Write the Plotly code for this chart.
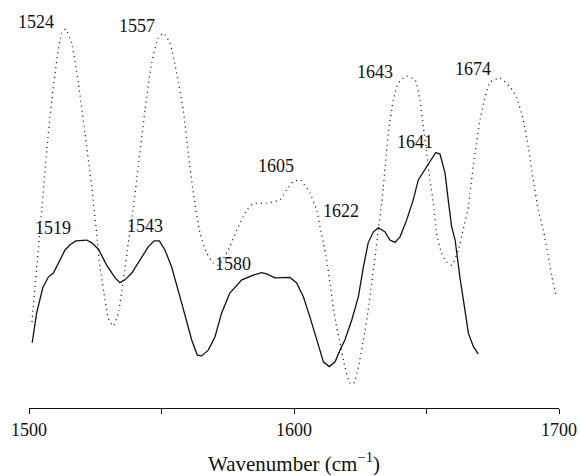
import plotly.graph_objects as go

# Spectrum traces (wavenumber, relative intensity)
dotted_x = [1501.1, 1504.8, 1506.7, 1508.6, 1510.5, 1512.3, 1513.8, 1516.1, 1518.6, 1521.1,
            1523.7, 1525.5, 1526.8, 1528.7, 1529.9, 1531.8, 1533.7, 1535.6, 1537.5, 1539.4,
            1541.2, 1543.8, 1546.3, 1548.8, 1550.7, 1553.2, 1555.7, 1558.2, 1560.1, 1562.0,
            1564.5, 1567.1, 1569.5, 1571.5, 1575.2, 1578.4, 1582.2, 1584.6, 1589.7, 1594.7,
            1597.2, 1599.6, 1602.3, 1606.0, 1608.6, 1609.8, 1611.1, 1612.3, 1613.6, 1614.8,
            1616.1, 1617.4, 1619.2, 1621.1, 1622.4, 1624.3, 1626.2, 1628.0, 1629.3, 1630.6,
            1631.8, 1633.1, 1633.7, 1635.6, 1637.5, 1639.4, 1642.5, 1645.7, 1647.5, 1648.8,
            1650.1, 1651.3, 1652.6, 1653.8, 1655.7, 1657.6, 1659.5, 1662.0, 1663.9, 1665.8,
            1666.4, 1668.3, 1670.2, 1672.1, 1674.0, 1677.7, 1681.5, 1684.0, 1686.5, 1688.4,
            1690.3, 1692.2, 1694.1, 1696.0, 1697.8, 1698.9]
dotted_y = [0.216, 0.497, 0.648, 0.774, 0.874, 0.942, 0.952, 0.917, 0.817, 0.691,
            0.555, 0.440, 0.354, 0.271, 0.226, 0.206, 0.239, 0.322, 0.415, 0.505,
            0.606, 0.749, 0.867, 0.930, 0.942, 0.917, 0.842, 0.749, 0.641, 0.540,
            0.440, 0.389, 0.364, 0.359, 0.397, 0.447, 0.497, 0.513, 0.515, 0.523,
            0.548, 0.568, 0.573, 0.540, 0.497, 0.455, 0.415, 0.372, 0.314, 0.254,
            0.204, 0.163, 0.103, 0.063, 0.060, 0.103, 0.171, 0.246, 0.314, 0.379,
            0.447, 0.515, 0.555, 0.691, 0.774, 0.817, 0.834, 0.824, 0.774, 0.706,
            0.641, 0.573, 0.515, 0.440, 0.389, 0.367, 0.359, 0.397, 0.450, 0.505,
            0.540, 0.641, 0.724, 0.781, 0.819, 0.829, 0.807, 0.781, 0.724, 0.656,
            0.573, 0.497, 0.447, 0.379, 0.314, 0.284]

solid_x = [1501.2, 1502.9, 1505.2, 1507.3, 1509.2, 1511.1, 1513.6, 1515.5, 1517.7, 1521.8,
           1523.7, 1526.2, 1529.3, 1532.5, 1534.3, 1536.2, 1538.8, 1541.9, 1545.0, 1547.2,
           1549.2, 1551.3, 1553.8, 1557.6, 1561.4, 1563.5, 1565.2, 1567.7, 1570.2, 1572.7,
           1575.8, 1580.3, 1584.6, 1587.8, 1589.7, 1592.8, 1595.4, 1598.5, 1601.0, 1603.5,
           1606.0, 1608.6, 1611.1, 1613.3, 1615.5, 1617.4, 1619.2, 1621.8, 1624.3, 1626.2,
           1628.0, 1629.9, 1631.8, 1634.3, 1636.2, 1638.1, 1640.0, 1642.5, 1645.0, 1646.9,
           1650.1, 1653.5, 1655.1, 1657.0, 1658.2, 1659.5, 1660.8, 1662.6, 1664.5, 1665.8,
           1667.7, 1669.5]
solid_y = [0.164, 0.239, 0.302, 0.329, 0.339, 0.364, 0.397, 0.410, 0.420, 0.422,
           0.415, 0.399, 0.359, 0.327, 0.315, 0.322, 0.339, 0.372, 0.405, 0.420,
           0.420, 0.397, 0.355, 0.264, 0.171, 0.133, 0.131, 0.146, 0.179, 0.239,
           0.289, 0.322, 0.334, 0.340, 0.337, 0.327, 0.327, 0.328, 0.314, 0.280,
           0.229, 0.171, 0.116, 0.104, 0.116, 0.146, 0.171, 0.221, 0.280, 0.355,
           0.415, 0.442, 0.453, 0.443, 0.422, 0.416, 0.430, 0.472, 0.523, 0.573,
           0.606, 0.642, 0.638, 0.590, 0.523, 0.455, 0.422, 0.329, 0.246, 0.188,
           0.154, 0.136]

# Peak labels
peak_labels = ["1524", "1557", "1519", "1543", "1580", "1605", "1622", "1643", "1674", "1641"]
label_x = [1502.6, 1540.9, 1509.1, 1543.6, 1577.0, 1593.2, 1617.7, 1630.4, 1667.4, 1645.7]
label_y = [0.970, 0.959, 0.452, 0.457, 0.362, 0.608, 0.495, 0.843, 0.852, 0.669]

tick_vals = [1500, 1600, 1700]
tick_text = ["1500", "1600", "1700"]
minor_tick_vals = [1550, 1650]

FONT = "Liberation Serif, Times New Roman, serif"
INK = "#111111"

fig = go.Figure()
fig.add_trace(go.Scatter(x=dotted_x, y=dotted_y, mode="lines",
                         line=dict(color=INK, width=1.3, dash="1px,4px", shape="spline", smoothing=0.5),
                         showlegend=False, hoverinfo="skip"))
fig.add_trace(go.Scatter(x=solid_x, y=solid_y, mode="lines",
                         line=dict(color=INK, width=1.3),
                         showlegend=False, hoverinfo="skip"))

for t, x, y in zip(peak_labels, label_x, label_y):
    fig.add_annotation(x=x, y=y, xref="x", yref="y", text=t, showarrow=False,
                       font=dict(family=FONT, size=18, color=INK),
                       xanchor="center", yanchor="middle")

fig.update_layout(
    width=580, height=476,
    margin=dict(l=29, r=21, t=10, b=68, autoexpand=False),
    paper_bgcolor="white", plot_bgcolor="white",
    xaxis=dict(range=[1500, 1700], tickmode="array", tickvals=tick_vals, ticktext=tick_text,
               automargin=False,
               showline=True, linecolor=INK, linewidth=1, ticks="outside", ticklen=5,
               tickcolor=INK, tickwidth=1, showgrid=False, zeroline=False,
               minor=dict(tickmode="array", tickvals=minor_tick_vals, ticks="outside",
                          ticklen=5, tickcolor=INK, tickwidth=1, showgrid=False),
               tickfont=dict(family=FONT, size=18, color=INK),
               title=dict(text="Wavenumber (cm<sup>\u22121</sup>)", standoff=18,
                          font=dict(family=FONT, size=21, color=INK))),
    yaxis=dict(range=[0, 1], visible=False, showgrid=False, zeroline=False, automargin=False),
)

fig.write_html(
    "out.html",
    config={"displayModeBar": False, "staticPlot": True},
    post_script="document.body.style.margin='0';document.body.style.padding='0';document.body.style.overflow='hidden';",
)
